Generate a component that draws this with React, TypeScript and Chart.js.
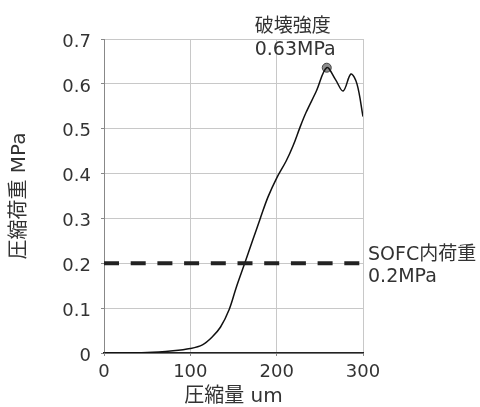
import React, { useEffect, useRef } from "react";
import { Chart, registerables } from "chart.js";

Chart.register(...registerables);

// Compression (um) vs load (MPa)
const compressionUm = [0, 50, 80, 100, 114, 125, 135, 145, 153, 163, 172, 181, 190, 200, 211, 219, 227, 234, 246, 258, 268, 277, 286, 293, 300];
const loadMPa = [0, 0.001, 0.005, 0.01, 0.018, 0.035, 0.058, 0.097, 0.145, 0.2, 0.25, 0.3, 0.348, 0.39, 0.428, 0.462, 0.503, 0.536, 0.584, 0.636, 0.61, 0.584, 0.622, 0.6, 0.527];

const peakX = [258];
const peakY = [0.636];

const sofcLineX = [0, 300];
const sofcLineY = [0.2, 0.2];

const peakLabel = ["破壊強度", "0.63MPa"];
const sofcLabel = ["SOFC内荷重", "0.2MPa"];

const xTitle = "圧縮量 um";
const yTitle = "圧縮荷重 MPa";

const FONT_FAMILY = '"DejaVu Sans", "Noto Sans CJK JP", sans-serif';
const TEXT = "#333333";

export default function App() {
  const ref = useRef<HTMLCanvasElement | null>(null);

  useEffect(() => {
    document.body.style.margin = "0";
    const canvas = ref.current;
    if (!canvas) return;

    const labelsPlugin = {
      id: "labelsPlugin",
      afterDraw(chart: any) {
        const ctx = chart.ctx;
        const xs = chart.scales.x;
        const ys = chart.scales.y;
        ctx.save();
        ctx.font = `19px ${FONT_FAMILY}`;
        ctx.fillStyle = TEXT;
        ctx.textAlign = "left";
        ctx.textBaseline = "middle";
        const px = xs.getPixelForValue(peakX[0]);
        const py = ys.getPixelForValue(peakY[0]);
        ctx.fillText(peakLabel[0], px - 72, py - 41);
        ctx.fillText(peakLabel[1], px - 72, py - 18);
        const sx = chart.chartArea.right + 5;
        const sy = ys.getPixelForValue(sofcLineY[0]);
        ctx.fillText(sofcLabel[0], sx, sy - 8);
        ctx.fillText(sofcLabel[1], sx, sy + 14);
        ctx.restore();
      },
    };

    const chart = new Chart(canvas, {
      type: "line",
      data: {
        datasets: [
          {
            label: "sofc",
            data: sofcLineX.map((x, i) => ({ x, y: sofcLineY[i] })),
            borderColor: "#222222",
            borderWidth: 4,
            borderDash: [15, 11.7],
            borderCapStyle: "butt",
            pointRadius: 0,
            tension: 0,
          },
          {
            label: "curve",
            data: compressionUm.map((x, i) => ({ x, y: loadMPa[i] })),
            borderColor: "#111111",
            borderWidth: 1.5,
            pointRadius: 0,
            tension: 0.35,
          },
          {
            label: "peak",
            data: peakX.map((x, i) => ({ x, y: peakY[i] })),
            showLine: false,
            pointRadius: 4.5,
            pointBackgroundColor: "#8c8c8c",
            pointBorderColor: "#444444",
            pointBorderWidth: 1,
          },
        ],
      } as any,
      options: {
        animation: false,
        responsive: false,
        devicePixelRatio: window.devicePixelRatio || 1,
        layout: { padding: { left: 0, right: 117, top: 39, bottom: 0 } },
        plugins: {
          legend: { display: false },
          tooltip: { enabled: false },
        },
        scales: {
          x: {
            type: "linear",
            min: 0,
            max: 300,
            ticks: {
              stepSize: 100,
              color: TEXT,
              font: { size: 18, family: FONT_FAMILY },
              padding: 6,
              maxRotation: 0,
            },
            grid: { color: "#c8c8c8", lineWidth: 1, tickLength: 3, tickColor: "#888" },
            border: { color: "#222222", width: 1.5 },
            title: {
              display: true,
              text: xTitle,
              color: TEXT,
              font: { size: 20, family: FONT_FAMILY, lineHeight: 1 },
              padding: { top: 0, bottom: 0 },
            },
            afterFit: (s: any) => {
              s.height = 54;
            },
          },
          y: {
            type: "linear",
            min: 0,
            max: 0.7,
            ticks: {
              stepSize: 0.1,
              color: TEXT,
              font: { size: 18, family: FONT_FAMILY },
              padding: 10,
              labelOffset: 3,
              callback: (v: any) => (Number(v) === 0 ? "0" : Number(v).toFixed(1)),
            },
            grid: { color: "#c8c8c8", lineWidth: 1, tickLength: 3, tickColor: "#888" },
            border: { color: "#888888", width: 1 },
            title: {
              display: true,
              text: yTitle,
              color: TEXT,
              font: { size: 20, family: FONT_FAMILY, lineHeight: 1 },
              padding: { top: 10, bottom: 0 },
            },
            afterFit: (s: any) => {
              s.width = 104;
            },
          },
        },
      } as any,
      plugins: [labelsPlugin],
    });

    return () => chart.destroy();
  }, []);

  return (
    <div style={{ width: 480, height: 407 }}>
      <canvas ref={ref} width={480} height={407} style={{ width: 480, height: 407, display: "block" }} />
    </div>
  );
}
